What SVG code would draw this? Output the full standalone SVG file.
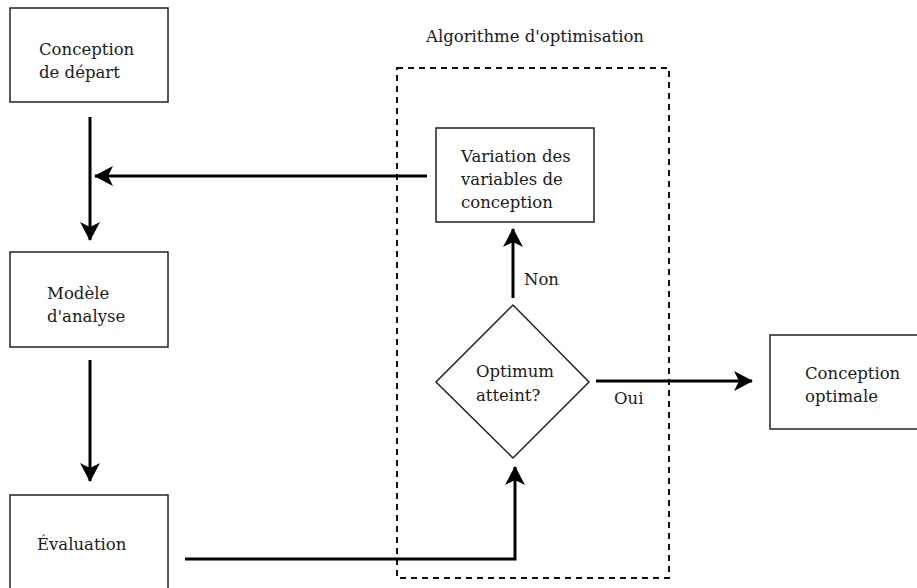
<svg xmlns="http://www.w3.org/2000/svg" width="917" height="588" viewBox="0 0 917 588">
<defs>
<marker id="ah" markerUnits="userSpaceOnUse" markerWidth="22" markerHeight="22" viewBox="0 -11 20 22" refX="18" refY="0" orient="auto">
<path d="M0,-10 L19,0 L0,10 L5,0 Z" fill="#000"/>
</marker>
<style>
text{font-family:"DejaVu Serif","Liberation Serif",serif;font-size:16.5px;fill:#1a1a1a}
.box{fill:#fff;stroke:#222;stroke-width:1.5}
.con{fill:none;stroke:#000;stroke-width:3;marker-end:url(#ah)}
.dash{fill:none;stroke:#111;stroke-width:2;stroke-dasharray:6,5}
</style>
</defs>
<rect width="917" height="588" fill="#fff"/>
<g id="groupe-optimisation">
<rect class="dash" x="397" y="68" width="272" height="510"/>
<text x="426" y="42">Algorithme d'optimisation</text>
</g>
<g id="connecteurs">
<line class="con" x1="90" y1="117" x2="90" y2="240"/>
<line class="con" x1="90" y1="360" x2="90" y2="481"/>
<line class="con" x1="427" y1="176" x2="95" y2="176"/>
<path class="con" d="M185,559 H515 V467"/>
<line class="con" x1="513" y1="298" x2="513" y2="229"/>
<line class="con" x1="596" y1="381" x2="752" y2="381"/>
<text x="524" y="285">Non</text>
<text x="614" y="404">Oui</text>
</g>
<g id="conception-depart">
<rect class="box" x="10" y="8" width="158" height="94"/>
<text x="39" y="55">Conception</text>
<text x="39" y="78">de départ</text>
</g>
<g id="modele-analyse">
<rect class="box" x="10" y="252" width="158" height="95"/>
<text x="47" y="299">Modèle</text>
<text x="47" y="322">d'analyse</text>
</g>
<g id="evaluation">
<rect class="box" x="10" y="495" width="158" height="100"/>
<text x="37" y="550">Évaluation</text>
</g>
<g id="variation">
<rect class="box" x="436" y="128" width="158" height="94"/>
<text x="461" y="162">Variation des</text>
<text x="461" y="185">variables de</text>
<text x="461" y="208">conception</text>
</g>
<g id="optimum">
<polygon class="box" points="513,305 589,382 513,458 436,382"/>
<text x="476" y="377">Optimum</text>
<text x="476" y="401">atteint?</text>
</g>
<g id="conception-optimale">
<rect class="box" x="770" y="335" width="160" height="94"/>
<text x="805" y="379">Conception</text>
<text x="805" y="402">optimale</text>
</g>
</svg>
